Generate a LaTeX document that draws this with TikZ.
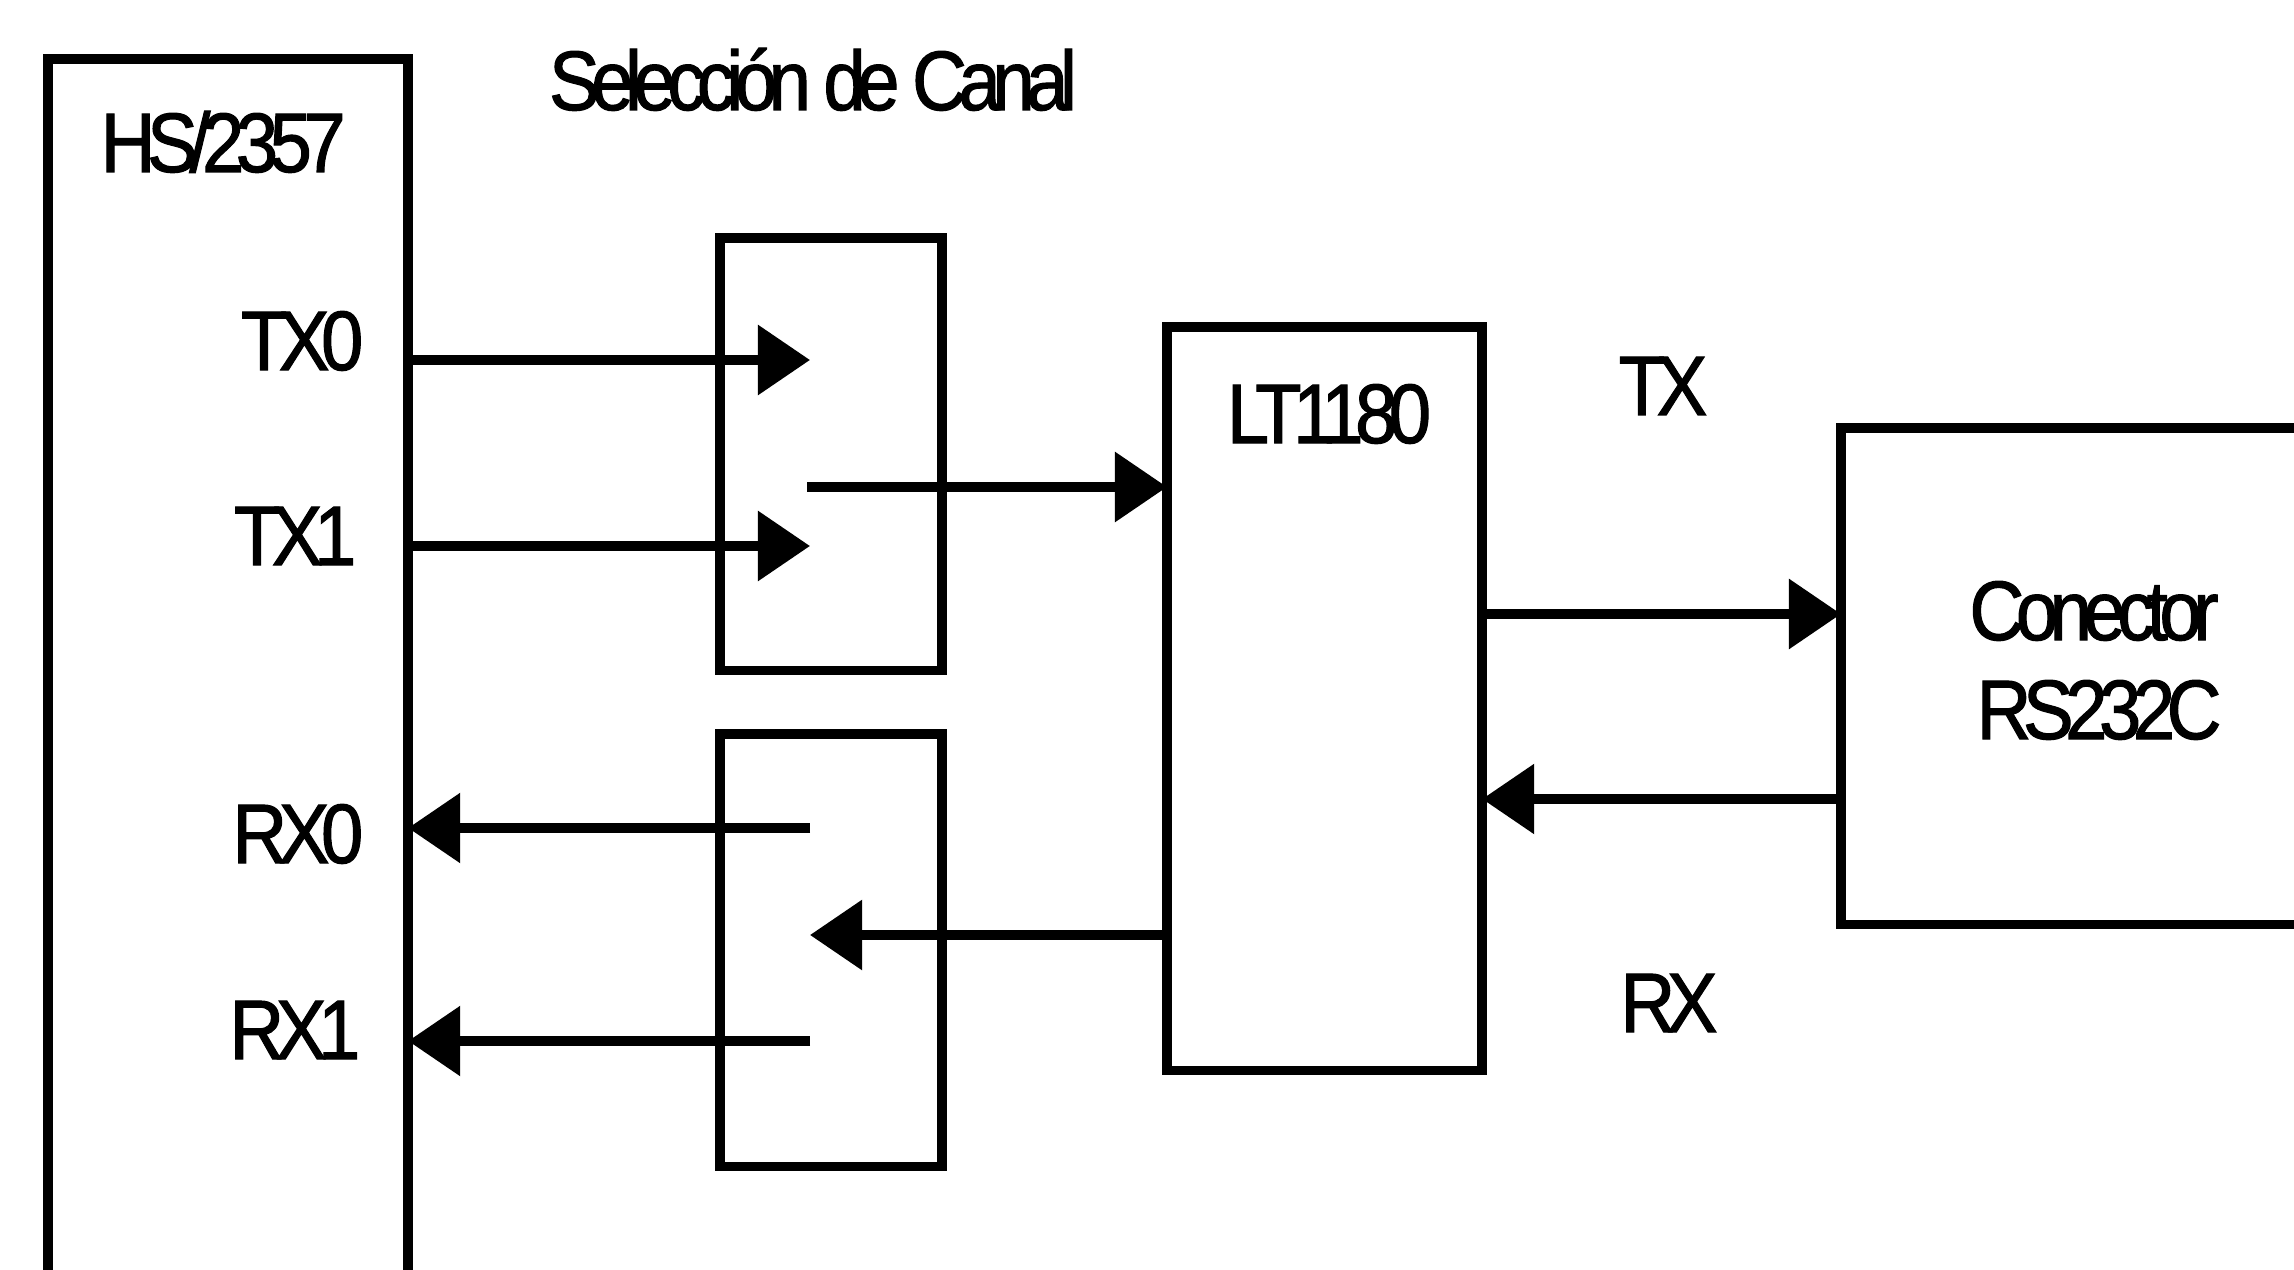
\documentclass[tikz,border=0pt]{standalone}
\usepackage{fontspec}
\setmainfont{Liberation Sans}[LetterSpace=-10,FakeStretch=0.9,FakeBold=1.3]
\usetikzlibrary{arrows.meta}
\begin{document}
\begin{tikzpicture}[x=0.01cm,y=-0.01cm]
	% Styles
	\tikzstyle{bloque}=[draw,line width=2.7pt,inner sep=0pt,outer sep=0pt,anchor=north west]
	\tikzstyle{flecha}=[-{Triangle[length=0.52cm,width=0.68cm]},line width=2.7pt]
	\tikzstyle{etiqueta}=[inner sep=0pt,font=\fontsize{24pt}{24pt}\selectfont]
	% Cadre
	\clip (0,0) rectangle (2294,1270);
	% Blocs
	\node[bloque,minimum width=3.60cm,minimum height=13cm] (hs) at (48,59) {};
	\node[bloque,minimum width=2.22cm,minimum height=4.32cm] (selA) at (720,238) {};
	\node[bloque,minimum width=2.22cm,minimum height=4.32cm] (selB) at (720,734) {};
	\node[bloque,minimum width=3.15cm,minimum height=7.43cm] (lt) at (1167,327) {};
	\node[bloque,minimum width=5cm,minimum height=4.96cm] (con) at (1841,428) {};
	% Textes
	\node[etiqueta,anchor=base west] (tHS) at (100,172) {HS/2357};
	\node[etiqueta,anchor=base] (tSel) at (813,110) {Selección de Canal};
	\node[etiqueta,anchor=base east] (tTX0) at (364,370) {TX0};
	\node[etiqueta,anchor=base east] (tTX1) at (357,565) {TX1};
	\node[etiqueta,anchor=base east] (tRX0) at (364,863) {RX0};
	\node[etiqueta,anchor=base east] (tRX1) at (361,1059) {RX1};
	\node[etiqueta,anchor=base] (tLT) at (1329,443) {LT1180};
	\node[etiqueta,anchor=base] (tTX) at (1663,415) {TX};
	\node[etiqueta,anchor=base] (tRX) at (1669,1032) {RX};
	\node[etiqueta,anchor=base] (tCon) at (2094,640) {Conector};
	\node[etiqueta,anchor=base] (tRS) at (2099,739) {RS232C};
	% Points libres
	\coordinate (eA0) at (810,360);
	\coordinate (eA1) at (810,546);
	\coordinate (sA) at (807,487);
	\coordinate (sB0) at (810,828);
	\coordinate (sB1) at (810,1041);
	\coordinate (eB) at (810,935);
	\coordinate (cTX) at (1660,614);
	\coordinate (cRX) at (1660,799);
	% Arcs
	\draw[flecha] (hs.east |- eA0)--(eA0);
	\draw[flecha] (hs.east |- eA1)--(eA1);
	\draw[flecha] (sA)--(lt.west |- sA);
	\draw[flecha] (lt.west |- eB)--(eB);
	\draw[flecha] (sB0)--(hs.east |- sB0);
	\draw[flecha] (sB1)--(hs.east |- sB1);
	\draw[flecha] (lt.east |- cTX)--(con.west |- cTX);
	\draw[flecha] (con.west |- cRX)--(lt.east |- cRX);
\end{tikzpicture}
\end{document}
